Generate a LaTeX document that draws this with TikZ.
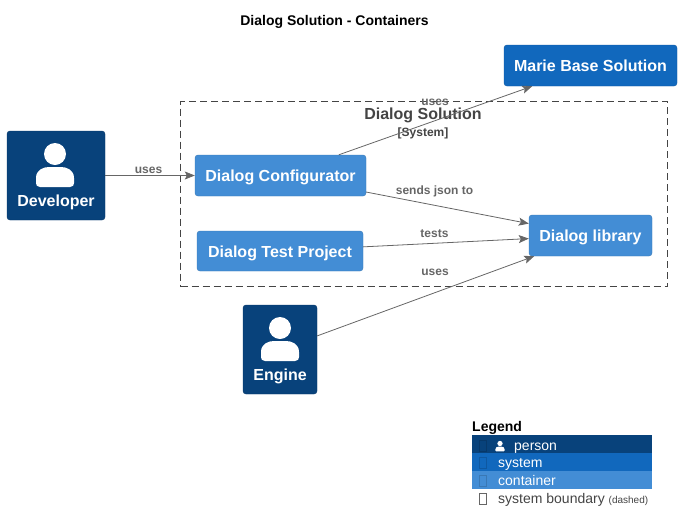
\documentclass[tikz,border=0pt]{standalone}
\usepackage{fontspec}
\setmainfont{Liberation Sans}
\usetikzlibrary{arrows.meta}
\definecolor{personblue}{HTML}{08427B}
\definecolor{systemblue}{HTML}{1168BD}
\definecolor{containerblue}{HTML}{438DD5}
\definecolor{linegray}{HTML}{666666}
\definecolor{boundgray}{HTML}{444444}
\tikzset{
  box/.style={draw=#1!85!black, line width=0.4pt, fill=#1, rounded corners=3, inner sep=0pt, text=white, text height=13.5pt, text depth=1.5pt, font=\bfseries\fontsize{16}{18}\selectfont},
  rel/.style={draw=linegray, line width=0.8pt, -{Stealth[length=10pt, width=8pt, inset=2pt]}},
  rellabel/.style={text=linegray, inner sep=0pt, font=\bfseries\fontsize{12}{14}\selectfont},
  persontext/.style={text=white, inner sep=0pt, font=\bfseries\fontsize{16}{18}\selectfont},
  legendrow/.style={fill=#1, minimum width=180, minimum height=18, inner sep=0pt},
  legendtext/.style={anchor=base west, inner sep=0pt, font=\fontsize{14}{16}\selectfont},
  tofu/.style={draw=#1, line width=0.5pt, fill=none},
  personicon/.pic={
    \fill[white] (0,0) circle (11);
    \fill[white] (-15,33) .. controls (-18,33) and (-19,31) .. (-19,29) -- (-19,24)
      .. controls (-19,16) and (-12,13) .. (-6,13) -- (6,13)
      .. controls (12,13) and (19,16) .. (19,24) -- (19,29)
      .. controls (19,31) and (18,33) .. (15,33) -- cycle;
  }
}
\begin{document}
\begin{tikzpicture}[x=1pt, y=-1pt]

   \useasboundingbox (0,0) rectangle (681,531);

   \node[font=\bfseries\fontsize{14}{16}\selectfont, inner sep=0pt] (title) at (334.5,21.5) {Dialog Solution - Containers};

   % boundary
   \node[draw=boundgray, dashed, dash pattern=on 7pt off 4pt, line width=0.8pt, minimum width=487, minimum height=185, inner sep=0pt] (bound) at (424,194) {};
   \node[text=boundgray, font=\bfseries\fontsize{16}{18}\selectfont, inner sep=0pt] (boundname) at (423,115) {Dialog Solution};
   \node[text=boundgray, font=\bfseries\fontsize{12}{14}\selectfont, inner sep=0pt] (boundtype) at (423,133) {[System]};

   % persons
   \node[box=personblue, minimum width=98, minimum height=89] (dev) at (56,175.5) {};
   \pic at (55,154) {personicon};
   \node[persontext] (devtext) at (56,202) {Developer};

   \node[box=personblue, minimum width=74, minimum height=89] (engine) at (280,349.5) {};
   \pic at (280,328) {personicon};
   \node[persontext] (enginetext) at (280,376) {Engine};

   % containers
   \node[box=containerblue, minimum width=171, minimum height=41] (conf) at (280.5,175.5) {Dialog Configurator};
   \node[box=containerblue, minimum width=166, minimum height=40] (test) at (280,251) {Dialog Test Project};
   \node[box=containerblue, minimum width=123, minimum height=41] (lib) at (590.5,235.5) {Dialog library};
   \node[box=systemblue, minimum width=173, minimum height=41] (marie) at (590.5,65.5) {Marie Base Solution};

   % relations
   \draw[rel] (dev) -- (conf);
   \draw[rel] (conf) -- (marie);
   \draw[rel] (conf) -- (lib);
   \draw[rel] (test) -- (lib);
   \draw[rel] (engine) -- (lib);

   \node[rellabel] (devuses) at (148.5,170) {uses};
   \node[rellabel] (marieuses) at (435,102) {uses};
   \node[rellabel] (json) at (434.5,191) {sends json to};
   \node[rellabel] (tests) at (434.5,234) {tests};
   \node[rellabel] (engineuses) at (435,272.5) {uses};

   % legend
   \node[anchor=west, inner sep=0pt, font=\bfseries\fontsize{14}{16}\selectfont] (legend) at (472,428) {Legend};
   \node[legendrow=personblue] (rowperson) at (562,444) {};
   \node[legendrow=systemblue] (rowsystem) at (562,462) {};
   \node[legendrow=containerblue] (rowcontainer) at (562,480) {};

   \pic[scale=0.24] at (500,443.5) {personicon};
   \node[legendtext, text=white] (txtperson) at (514,450) {person};
   \node[legendtext, text=white] (txtsystem) at (498,467) {system};
   \node[legendtext, text=white] (txtcontainer) at (498,485) {container};
   \node[legendtext, text=boundgray] (txtbound) at (498,503) {system boundary {\fontsize{10}{12}\selectfont(dashed)}};

   \draw[tofu=personblue!85!black] (479.5,440.5) rectangle (486.5,451.5);
   \draw[tofu=systemblue!85!black] (479.5,457.5) rectangle (486.5,468.5);
   \draw[tofu=containerblue!85!black] (479.5,475.5) rectangle (486.5,486);
   \draw[tofu=linegray] (479.5,493.5) rectangle (486.5,504);

\end{tikzpicture}
\end{document}
